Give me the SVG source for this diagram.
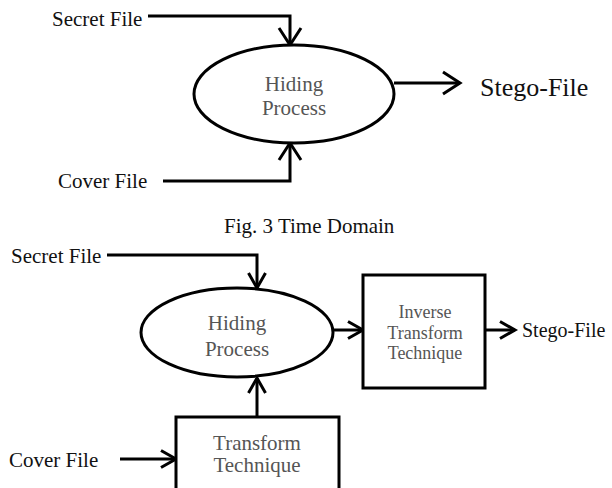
<svg xmlns="http://www.w3.org/2000/svg" width="612" height="488" viewBox="0 0 612 488">
<style>
.ln{fill:none;stroke:#000;stroke-width:3}
.sh{fill:#fff;stroke:#000;stroke-width:3}
.lbl{font-family:"Liberation Serif","Times New Roman",serif;fill:#111}
.in{font-family:"Liberation Serif","Times New Roman",serif;fill:#555;text-anchor:middle}
</style>
<defs>
<marker id="ah" markerUnits="userSpaceOnUse" markerWidth="22" markerHeight="24" refX="17" refY="11" orient="auto" overflow="visible">
<path d="M0,0 L17,11 L0,22" fill="none" stroke="#000" stroke-width="3"/>
</marker>
<marker id="ahs" markerUnits="userSpaceOnUse" markerWidth="20" markerHeight="20" refX="15" refY="8.5" orient="auto" overflow="visible">
<path d="M0,0 L15,8.5 L0,17" fill="none" stroke="#000" stroke-width="3"/>
</marker>
<clipPath id="clipP"><rect x="140" y="290" width="200" height="66"/></clipPath>
</defs>

<g id="connectors">
<polyline class="ln" points="148,16 290,16 290,45" marker-end="url(#ah)"/>
<polyline class="ln" points="163,181 290,181 290,143" marker-end="url(#ah)"/>
<line class="ln" x1="394" y1="83" x2="460" y2="83" marker-end="url(#ah)"/>
<polyline class="ln" points="107,255 257,255 257,288" marker-end="url(#ahs)"/>
<line class="ln" x1="257" y1="417" x2="257" y2="378" marker-end="url(#ahs)"/>
<line class="ln" x1="120" y1="459" x2="176" y2="459" marker-end="url(#ahs)"/>
<line class="ln" x1="333" y1="330" x2="363" y2="330" marker-end="url(#ahs)"/>
<line class="ln" x1="485" y1="330" x2="515" y2="330" marker-end="url(#ahs)"/>
</g>

<g id="secret1"><text class="lbl" x="52" y="26" font-size="21">Secret File</text></g>
<g id="cover1"><text class="lbl" x="58" y="188" font-size="21">Cover File</text></g>
<g id="hiding1">
<ellipse class="sh" cx="294" cy="94" rx="100" ry="49"/>
<text class="in" x="294" y="91" font-size="21">Hiding</text>
<text class="in" x="294" y="115" font-size="21">Process</text>
</g>
<g id="stego1"><text class="lbl" x="480" y="96" font-size="26">Stego-File</text></g>

<g id="caption"><text class="lbl" x="224" y="233" font-size="21">Fig. 3 Time Domain</text></g>

<g id="secret2"><text class="lbl" x="11" y="263" font-size="21">Secret File</text></g>
<g id="cover2"><text class="lbl" x="9" y="467" font-size="21">Cover File</text></g>
<g id="hiding2">
<ellipse class="sh" cx="237" cy="332.5" rx="96" ry="44.5"/>
<text class="in" x="237" y="330" font-size="21">Hiding</text>
<text class="in" x="237" y="356" font-size="21" clip-path="url(#clipP)">Process</text>
</g>
<g id="transform">
<rect class="sh" x="176" y="417" width="163" height="90"/>
<text class="in" x="257" y="450" font-size="21">Transform</text>
<text class="in" x="257" y="472" font-size="21">Technique</text>
</g>
<g id="inverse">
<rect class="sh" x="363" y="275" width="122" height="113"/>
<text class="in" x="425" y="318" font-size="18">Inverse</text>
<text class="in" x="425" y="339" font-size="18">Transform</text>
<text class="in" x="425" y="359" font-size="18">Technique</text>
</g>
<g id="stego2"><text class="lbl" x="522" y="337" font-size="20">Stego-File</text></g>
</svg>
